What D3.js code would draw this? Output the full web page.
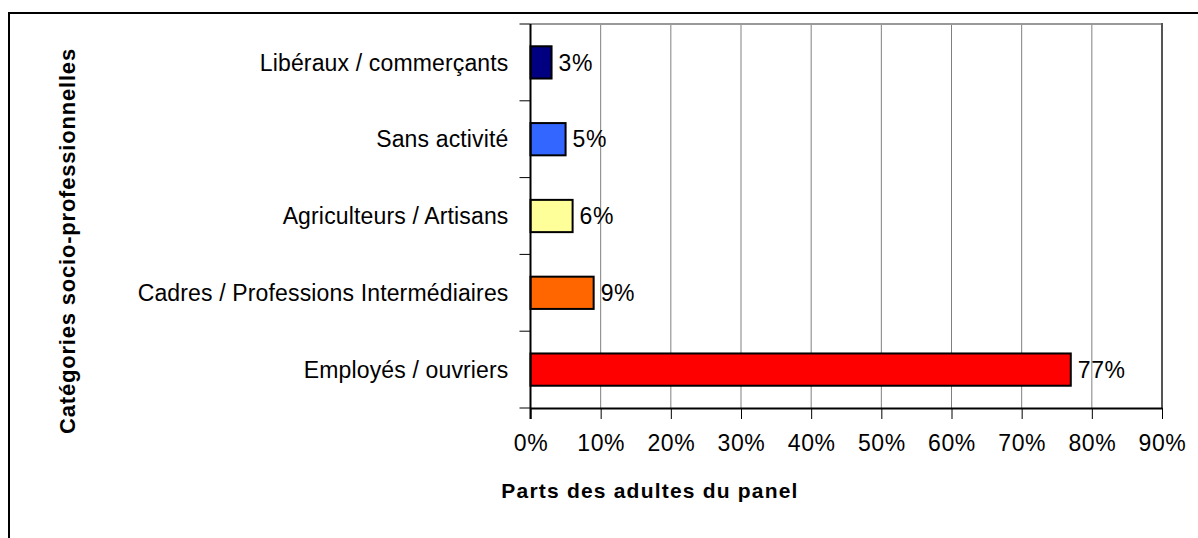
<!DOCTYPE html>
<html>
<head>
<meta charset="utf-8">
<script src="https://cdn.jsdelivr.net/npm/d3@7"></script>
<style>
  html, body { margin: 0; padding: 0; background: #fff; }
  svg { display: block; font-family: Arial, "Liberation Sans", sans-serif; }
</style>
</head>
<body>
<svg id="chart" width="1198" height="538"></svg>
<script>
// Categories from top to bottom, with their share of panel adults (%)
const categories = [
  "Libéraux / commerçants",
  "Sans activité",
  "Agriculteurs / Artisans",
  "Cadres / Professions Intermédiaires",
  "Employés / ouvriers"
];
const shares = [3, 5, 6, 9, 77];
const barColors = ["#000080", "#3366FF", "#FFFF99", "#FF6600", "#FF0000"];
const xTicks = [0, 10, 20, 30, 40, 50, 60, 70, 80, 90];
const xTitle = "Parts des adultes du panel";
const yTitle = "Catégories socio-professionnelles";

const svg = d3.select("#chart");
const plot = { left: 530.5, right: 1162, top: 24, bottom: 408 };
const FONT = "Arial, 'Liberation Sans', sans-serif";

const x = d3.scaleLinear().domain([0, 90]).range([plot.left, plot.right]);
const y = d3.scaleBand().domain(categories).range([plot.top, plot.bottom]).paddingInner(0.58).paddingOuter(0.29);
const yEdges = d3.scaleBand().domain(categories).range([plot.top, plot.bottom]);

// Outer frame
svg.append("rect")
  .attr("x", 9).attr("y", 13).attr("width", 1198).attr("height", 540)
  .attr("fill", "none").attr("stroke", "#000").attr("stroke-width", 2);

// Vertical gridlines
svg.append("g")
  .selectAll("line").data(xTicks.slice(1, -1)).join("line")
  .attr("x1", d => x(d)).attr("x2", d => x(d))
  .attr("y1", plot.top).attr("y2", plot.bottom)
  .attr("stroke", "#808080").attr("stroke-width", 1);

// Plot frame: top and right edges
svg.append("line")
  .attr("x1", plot.left).attr("x2", plot.right).attr("y1", plot.top).attr("y2", plot.top)
  .attr("stroke", "#999").attr("stroke-width", 2);
svg.append("line")
  .attr("x1", plot.right).attr("x2", plot.right).attr("y1", plot.top - 1).attr("y2", plot.bottom)
  .attr("stroke", "#555").attr("stroke-width", 2);

// Bars
svg.append("g")
  .selectAll("rect").data(categories).join("rect")
  .attr("x", x(0))
  .attr("y", d => y(d))
  .attr("width", (d, i) => x(shares[i]) - x(0))
  .attr("height", y.bandwidth())
  .attr("fill", (d, i) => barColors[i])
  .attr("stroke", "#000").attr("stroke-width", 2);

// Value labels
svg.append("g")
  .selectAll("text").data(categories).join("text")
  .attr("x", (d, i) => x(shares[i]) + 7)
  .attr("y", d => y(d) + y.bandwidth() / 2)
  .attr("dy", "0.36em")
  .attr("font-size", 23).attr("letter-spacing", 0.6)
  .text((d, i) => shares[i] + "%");

// X axis
const xAxis = svg.append("g")
  .attr("transform", `translate(0,${plot.bottom})`)
  .call(d3.axisBottom(x).tickValues(xTicks).tickFormat(d => d + "%").tickSize(11).tickSizeOuter(0).tickPadding(16));
xAxis.select(".domain").attr("stroke", "#000").attr("stroke-width", 2);
xAxis.selectAll(".tick line").attr("stroke", "#000").attr("stroke-width", 1);
xAxis.selectAll(".tick text")
  .attr("font-size", 23).attr("letter-spacing", 0.6)
  .attr("font-family", FONT).attr("fill", "#000");

// Y axis: line with ticks between categories
svg.append("line")
  .attr("x1", plot.left).attr("x2", plot.left).attr("y1", plot.top).attr("y2", plot.bottom + 11)
  .attr("stroke", "#000").attr("stroke-width", 2);
const yTickPos = categories.map(c => yEdges(c)).concat([plot.bottom]);
svg.append("g")
  .selectAll("line").data(yTickPos).join("line")
  .attr("x1", plot.left - 11).attr("x2", plot.left)
  .attr("y1", d => d).attr("y2", d => d)
  .attr("stroke", "#000").attr("stroke-width", 1);

// Category labels
svg.append("g")
  .selectAll("text").data(categories).join("text")
  .attr("x", plot.left - 22)
  .attr("y", d => y(d) + y.bandwidth() / 2)
  .attr("dy", "0.36em")
  .attr("text-anchor", "end")
  .attr("font-size", 23).attr("letter-spacing", 0.15)
  .text(d => d);

// Axis titles
svg.append("text")
  .attr("x", 650).attr("y", 498)
  .attr("text-anchor", "middle")
  .attr("font-size", 21).attr("font-weight", "bold").attr("letter-spacing", 1.2)
  .text(xTitle);
svg.append("text")
  .attr("transform", "translate(75,241) rotate(-90)")
  .attr("text-anchor", "middle")
  .attr("font-size", 22).attr("font-weight", "bold").attr("letter-spacing", 0.8)
  .text(yTitle);
</script>
</body>
</html>
